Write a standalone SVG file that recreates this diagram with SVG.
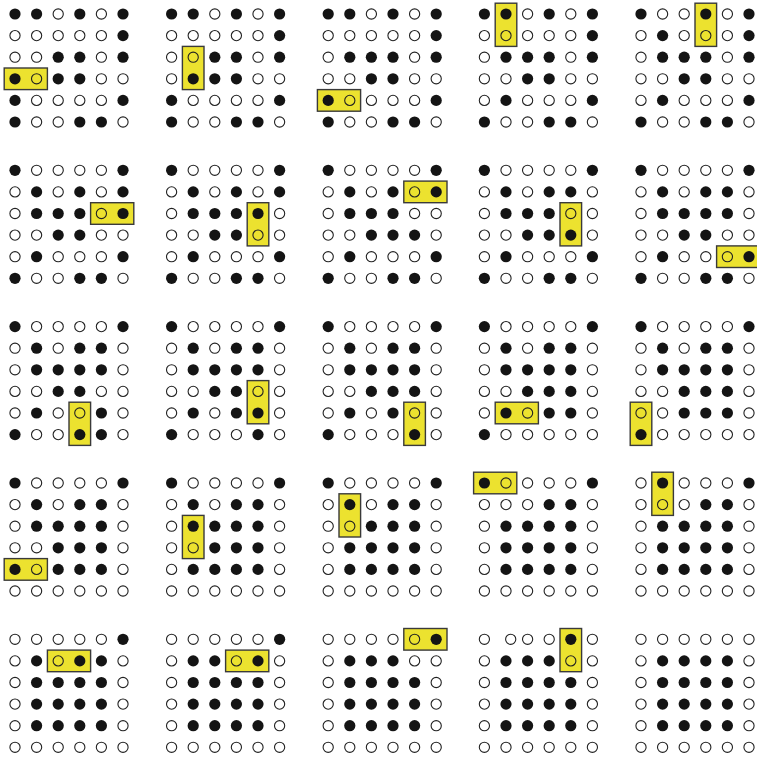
<svg xmlns="http://www.w3.org/2000/svg" xmlns:xlink="http://www.w3.org/1999/xlink" width="757" height="758" viewBox="0 0 757 758">
<style>
.hl{fill:#ece22f;stroke:#3a3a3a;stroke-width:1.4}
</style>
<defs>
<circle id="f" r="5.6" fill="#141414"/>
<circle id="o" r="5.1" fill="none" stroke="#222222" stroke-width="1.1"/>
<g id="r110101"><use href="#f"/><use href="#f" x="21.6"/><use href="#o" x="43.2"/><use href="#f" x="64.8"/><use href="#o" x="86.4"/><use href="#f" x="108"/></g>
<g id="r000001"><use href="#o"/><use href="#o" x="21.6"/><use href="#o" x="43.2"/><use href="#o" x="64.8"/><use href="#o" x="86.4"/><use href="#f" x="108"/></g>
<g id="r001101"><use href="#o"/><use href="#o" x="21.6"/><use href="#f" x="43.2"/><use href="#f" x="64.8"/><use href="#o" x="86.4"/><use href="#f" x="108"/></g>
<g id="r101100"><use href="#f"/><use href="#o" x="21.6"/><use href="#f" x="43.2"/><use href="#f" x="64.8"/><use href="#o" x="86.4"/><use href="#o" x="108"/></g>
<g id="r100001"><use href="#f"/><use href="#o" x="21.6"/><use href="#o" x="43.2"/><use href="#o" x="64.8"/><use href="#o" x="86.4"/><use href="#f" x="108"/></g>
<g id="r100110"><use href="#f"/><use href="#o" x="21.6"/><use href="#o" x="43.2"/><use href="#f" x="64.8"/><use href="#f" x="86.4"/><use href="#o" x="108"/></g>
<g id="r011100"><use href="#o"/><use href="#f" x="21.6"/><use href="#f" x="43.2"/><use href="#f" x="64.8"/><use href="#o" x="86.4"/><use href="#o" x="108"/></g>
<g id="r011101"><use href="#o"/><use href="#f" x="21.6"/><use href="#f" x="43.2"/><use href="#f" x="64.8"/><use href="#o" x="86.4"/><use href="#f" x="108"/></g>
<g id="r001100"><use href="#o"/><use href="#o" x="21.6"/><use href="#f" x="43.2"/><use href="#f" x="64.8"/><use href="#o" x="86.4"/><use href="#o" x="108"/></g>
<g id="r010001"><use href="#o"/><use href="#f" x="21.6"/><use href="#o" x="43.2"/><use href="#o" x="64.8"/><use href="#o" x="86.4"/><use href="#f" x="108"/></g>
<g id="r100101"><use href="#f"/><use href="#o" x="21.6"/><use href="#o" x="43.2"/><use href="#f" x="64.8"/><use href="#o" x="86.4"/><use href="#f" x="108"/></g>
<g id="r010101"><use href="#o"/><use href="#f" x="21.6"/><use href="#o" x="43.2"/><use href="#f" x="64.8"/><use href="#o" x="86.4"/><use href="#f" x="108"/></g>
<g id="r011110"><use href="#o"/><use href="#f" x="21.6"/><use href="#f" x="43.2"/><use href="#f" x="64.8"/><use href="#f" x="86.4"/><use href="#o" x="108"/></g>
<g id="r001110"><use href="#o"/><use href="#o" x="21.6"/><use href="#f" x="43.2"/><use href="#f" x="64.8"/><use href="#f" x="86.4"/><use href="#o" x="108"/></g>
<g id="r010110"><use href="#o"/><use href="#f" x="21.6"/><use href="#o" x="43.2"/><use href="#f" x="64.8"/><use href="#f" x="86.4"/><use href="#o" x="108"/></g>
<g id="r010010"><use href="#o"/><use href="#f" x="21.6"/><use href="#o" x="43.2"/><use href="#o" x="64.8"/><use href="#f" x="86.4"/><use href="#o" x="108"/></g>
<g id="r100010"><use href="#f"/><use href="#o" x="21.6"/><use href="#o" x="43.2"/><use href="#o" x="64.8"/><use href="#f" x="86.4"/><use href="#o" x="108"/></g>
<g id="r010100"><use href="#o"/><use href="#f" x="21.6"/><use href="#o" x="43.2"/><use href="#f" x="64.8"/><use href="#o" x="86.4"/><use href="#o" x="108"/></g>
<g id="r100000"><use href="#f"/><use href="#o" x="21.6"/><use href="#o" x="43.2"/><use href="#o" x="64.8"/><use href="#o" x="86.4"/><use href="#o" x="108"/></g>
<g id="r101110"><use href="#f"/><use href="#o" x="21.6"/><use href="#f" x="43.2"/><use href="#f" x="64.8"/><use href="#f" x="86.4"/><use href="#o" x="108"/></g>
<g id="r000000"><use href="#o"/><use href="#o" x="21.6"/><use href="#o" x="43.2"/><use href="#o" x="64.8"/><use href="#o" x="86.4"/><use href="#o" x="108"/></g>
<g id="r000110"><use href="#o"/><use href="#o" x="21.6"/><use href="#o" x="43.2"/><use href="#f" x="64.8"/><use href="#f" x="86.4"/><use href="#o" x="108"/></g>
<g id="r011010"><use href="#o"/><use href="#f" x="21.6"/><use href="#f" x="43.2"/><use href="#o" x="64.8"/><use href="#f" x="86.4"/><use href="#o" x="108"/></g>
<g id="r000010s"><use href="#o"/><use href="#o" x="26.3"/><use href="#o" x="43.2"/><use href="#o" x="64.8"/><use href="#f" x="86.4"/><use href="#o" x="108"/></g>
</defs>

<g id="p00" transform="translate(15,14)">
<rect class="hl" x="-10.8" y="54" width="43.2" height="21.6"/>
<use href="#r110101"/><use href="#r000001" y="21.6"/><use href="#r001101" y="43.2"/><use href="#r101100" y="64.8"/><use href="#r100001" y="86.4"/><use href="#r100110" y="108"/>
</g>
<g id="p01" transform="translate(171.6,14)">
<rect class="hl" x="10.8" y="32.4" width="21.6" height="43.2"/>
<use href="#r110101"/><use href="#r000001" y="21.6"/><use href="#r001101" y="43.2"/><use href="#r011100" y="64.8"/><use href="#r100001" y="86.4"/><use href="#r100110" y="108"/>
</g>
<g id="p02" transform="translate(328.2,14)">
<rect class="hl" x="-10.8" y="75.6" width="43.2" height="21.6"/>
<use href="#r110101"/><use href="#r000001" y="21.6"/><use href="#r011101" y="43.2"/><use href="#r001100" y="64.8"/><use href="#r100001" y="86.4"/><use href="#r100110" y="108"/>
</g>
<g id="p03" transform="translate(484.4,14)">
<rect class="hl" x="10.8" y="-10.8" width="21.6" height="43.2"/>
<use href="#r110101"/><use href="#r000001" y="21.6"/><use href="#r011101" y="43.2"/><use href="#r001100" y="64.8"/><use href="#r010001" y="86.4"/><use href="#r100110" y="108"/>
</g>
<g id="p04" transform="translate(641,14)">
<rect class="hl" x="54" y="-10.8" width="21.6" height="43.2"/>
<use href="#r100101"/><use href="#r010001" y="21.6"/><use href="#r011101" y="43.2"/><use href="#r001100" y="64.8"/><use href="#r010001" y="86.4"/><use href="#r100110" y="108"/>
</g>

<g id="p10" transform="translate(15,170.3)">
<rect class="hl" x="75.6" y="32.4" width="43.2" height="21.6"/>
<use href="#r100001"/><use href="#r010101" y="21.6"/><use href="#r011101" y="43.2"/><use href="#r001100" y="64.8"/><use href="#r010001" y="86.4"/><use href="#r100110" y="108"/>
</g>
<g id="p11" transform="translate(171.6,170.3)">
<rect class="hl" x="75.6" y="32.4" width="21.6" height="43.2"/>
<use href="#r100001"/><use href="#r010101" y="21.6"/><use href="#r011110" y="43.2"/><use href="#r001100" y="64.8"/><use href="#r010001" y="86.4"/><use href="#r100110" y="108"/>
</g>
<g id="p12" transform="translate(328.2,170.3)">
<rect class="hl" x="75.6" y="10.8" width="43.2" height="21.6"/>
<use href="#r100001"/><use href="#r010101" y="21.6"/><use href="#r011100" y="43.2"/><use href="#r001110" y="64.8"/><use href="#r010001" y="86.4"/><use href="#r100110" y="108"/>
</g>
<g id="p13" transform="translate(484.4,170.3)">
<rect class="hl" x="75.6" y="32.4" width="21.6" height="43.2"/>
<use href="#r100001"/><use href="#r010110" y="21.6"/><use href="#r011100" y="43.2"/><use href="#r001110" y="64.8"/><use href="#r010001" y="86.4"/><use href="#r100110" y="108"/>
</g>
<g id="p14" transform="translate(641,170.3)">
<rect class="hl" x="75.6" y="75.6" width="43.2" height="21.6"/>
<use href="#r100001"/><use href="#r010110" y="21.6"/><use href="#r011110" y="43.2"/><use href="#r001100" y="64.8"/><use href="#r010001" y="86.4"/><use href="#r100110" y="108"/>
</g>

<g id="p20" transform="translate(15,326.6)">
<rect class="hl" x="54" y="75.6" width="21.6" height="43.2"/>
<use href="#r100001"/><use href="#r010110" y="21.6"/><use href="#r011110" y="43.2"/><use href="#r001100" y="64.8"/><use href="#r010010" y="86.4"/><use href="#r100110" y="108"/>
</g>
<g id="p21" transform="translate(171.6,326.6)">
<rect class="hl" x="75.6" y="54" width="21.6" height="43.2"/>
<use href="#r100001"/><use href="#r010110" y="21.6"/><use href="#r011110" y="43.2"/><use href="#r001100" y="64.8"/><use href="#r010110" y="86.4"/><use href="#r100010" y="108"/>
</g>
<g id="p22" transform="translate(328.2,326.6)">
<rect class="hl" x="75.6" y="75.6" width="21.6" height="43.2"/>
<use href="#r100001"/><use href="#r010110" y="21.6"/><use href="#r011110" y="43.2"/><use href="#r001110" y="64.8"/><use href="#r010100" y="86.4"/><use href="#r100010" y="108"/>
</g>
<g id="p23" transform="translate(484.4,326.6)">
<rect class="hl" x="10.8" y="75.6" width="43.2" height="21.6"/>
<use href="#r100001"/><use href="#r010110" y="21.6"/><use href="#r011110" y="43.2"/><use href="#r001110" y="64.8"/><use href="#r010110" y="86.4"/><use href="#r100000" y="108"/>
</g>
<g id="p24" transform="translate(641,326.6)">
<rect class="hl" x="-10.8" y="75.6" width="21.6" height="43.2"/>
<use href="#r100001"/><use href="#r010110" y="21.6"/><use href="#r011110" y="43.2"/><use href="#r001110" y="64.8"/><use href="#r001110" y="86.4"/><use href="#r100000" y="108"/>
</g>

<g id="p30" transform="translate(15,483)">
<rect class="hl" x="-10.8" y="75.6" width="43.2" height="21.6"/>
<use href="#r100001"/><use href="#r010110" y="21.6"/><use href="#r011110" y="43.2"/><use href="#r001110" y="64.8"/><use href="#r101110" y="86.4"/><use href="#r000000" y="108"/>
</g>
<g id="p31" transform="translate(171.6,483)">
<rect class="hl" x="10.8" y="32.4" width="21.6" height="43.2"/>
<use href="#r100001"/><use href="#r010110" y="21.6"/><use href="#r011110" y="43.2"/><use href="#r001110" y="64.8"/><use href="#r011110" y="86.4"/><use href="#r000000" y="108"/>
</g>
<g id="p32" transform="translate(328.2,483)">
<rect class="hl" x="10.8" y="10.8" width="21.6" height="43.2"/>
<use href="#r100001"/><use href="#r010110" y="21.6"/><use href="#r001110" y="43.2"/><use href="#r011110" y="64.8"/><use href="#r011110" y="86.4"/><use href="#r000000" y="108"/>
</g>
<g id="p33" transform="translate(484.4,483)">
<rect class="hl" x="-10.8" y="-10.8" width="43.2" height="21.6"/>
<use href="#r100001"/><use href="#r000110" y="21.6"/><use href="#r011110" y="43.2"/><use href="#r011110" y="64.8"/><use href="#r011110" y="86.4"/><use href="#r000000" y="108"/>
</g>
<g id="p34" transform="translate(641,483)">
<rect class="hl" x="10.8" y="-10.8" width="21.6" height="43.2"/>
<use href="#r010001"/><use href="#r000110" y="21.6"/><use href="#r011110" y="43.2"/><use href="#r011110" y="64.8"/><use href="#r011110" y="86.4"/><use href="#r000000" y="108"/>
</g>

<g id="p40" transform="translate(15,639.3)">
<rect class="hl" x="32.4" y="10.8" width="43.2" height="21.6"/>
<use href="#r000001"/><use href="#r010110" y="21.6"/><use href="#r011110" y="43.2"/><use href="#r011110" y="64.8"/><use href="#r011110" y="86.4"/><use href="#r000000" y="108"/>
</g>
<g id="p41" transform="translate(171.6,639.3)">
<rect class="hl" x="54" y="10.8" width="43.2" height="21.6"/>
<use href="#r000001"/><use href="#r011010" y="21.6"/><use href="#r011110" y="43.2"/><use href="#r011110" y="64.8"/><use href="#r011110" y="86.4"/><use href="#r000000" y="108"/>
</g>
<g id="p42" transform="translate(328.2,639.3)">
<rect class="hl" x="75.6" y="-10.8" width="43.2" height="21.6"/>
<use href="#r000001"/><use href="#r011100" y="21.6"/><use href="#r011110" y="43.2"/><use href="#r011110" y="64.8"/><use href="#r011110" y="86.4"/><use href="#r000000" y="108"/>
</g>
<g id="p43" transform="translate(484.4,639.3)">
<rect class="hl" x="75.6" y="-10.8" width="21.6" height="43.2"/>
<use href="#r000010s"/><use href="#r011100" y="21.6"/><use href="#r011110" y="43.2"/><use href="#r011110" y="64.8"/><use href="#r011110" y="86.4"/><use href="#r000000" y="108"/>
</g>
<g id="p44" transform="translate(641,639.3)">
<use href="#r000000"/><use href="#r011110" y="21.6"/><use href="#r011110" y="43.2"/><use href="#r011110" y="64.8"/><use href="#r011110" y="86.4"/><use href="#r000000" y="108"/>
</g>
</svg>
